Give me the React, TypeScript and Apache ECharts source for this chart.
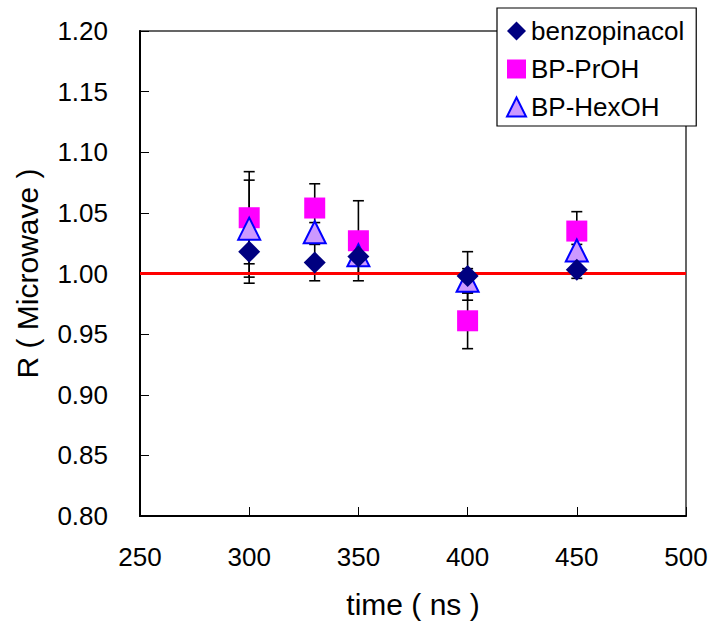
import React, { useEffect, useRef } from "react";
import * as echarts from "echarts";

const times = [300, 330, 350, 400, 450];
const benzo = [1.018, 1.009, 1.014, 0.998, 1.003];
const benzoErr = [0.026, 0.015, 0.014, 0.02, 0.007];
const prOH = [1.046, 1.054, 1.027, 0.961, 1.035];
const prOHErr = [0.038, 0.02, 0.033, 0.023, 0.016];
const hexOH = [1.037, 1.034, 1.015, 0.994, 1.019];
const hexOHErr = [0.04, 0.008, 0.006, 0.01, 0.005];
const seriesNames = ["benzopinacol", "BP-PrOH", "BP-HexOH"];
const refLine = [
  [250, 1.0],
  [500, 1.0],
];

const FONT = "'Liberation Sans', Arial, sans-serif";

function errSeries(name: string, ys: number[], errs: number[]) {
  return {
    type: "custom",
    name,
    z: 1,
    silent: true,
    data: times.map((t, i) => [t, ys[i], errs[i]]),
    renderItem: (_params: any, api: any) => {
      const x = api.value(0);
      const y = api.value(1);
      const e = api.value(2);
      const top = api.coord([x, y + e]);
      const bot = api.coord([x, y - e]);
      const hw = 5.5;
      const style = { stroke: "#000", lineWidth: 1.6 };
      return {
        type: "group",
        children: [
          { type: "line", shape: { x1: top[0], y1: top[1], x2: bot[0], y2: bot[1] }, style },
          { type: "line", shape: { x1: top[0] - hw, y1: top[1], x2: top[0] + hw, y2: top[1] }, style },
          { type: "line", shape: { x1: bot[0] - hw, y1: bot[1], x2: bot[0] + hw, y2: bot[1] }, style },
        ],
      };
    },
  };
}

export default function App() {
  const ref = useRef<HTMLDivElement>(null);
  useEffect(() => {
    const chart = echarts.init(ref.current!, null, { renderer: "svg" });
    chart.setOption({
      animation: false,
      backgroundColor: "#fff",
      textStyle: { fontFamily: FONT },
      grid: {
        left: 140,
        top: 31,
        right: 30,
        bottom: 107,
        show: true,
        borderColor: "#333",
        borderWidth: 1.5,
        backgroundColor: "transparent",
      },
      legend: {
        data: seriesNames,
        orient: "vertical",
        left: 497,
        top: 8,
        padding: [10, 12, 6, 9],
        itemGap: 12,
        itemWidth: 19,
        itemHeight: 19,
        backgroundColor: "#fff",
        borderColor: "#000",
        borderWidth: 1.2,
        borderRadius: 0,
        z: 10,
        textStyle: { fontSize: 26, color: "#000", fontFamily: FONT },
      },
      xAxis: {
        type: "value",
        min: 250,
        max: 500,
        interval: 50,
        name: "time ( ns )",
        nameLocation: "middle",
        nameGap: 73,
        nameTextStyle: { fontSize: 30, color: "#000", fontFamily: FONT },
        axisLine: { show: true, lineStyle: { color: "#000", width: 2 } },
        axisTick: { show: true, inside: true, length: 9, lineStyle: { color: "#000", width: 1 } },
        axisLabel: { fontSize: 26, color: "#000", margin: 28, fontFamily: FONT },
        splitLine: { show: false },
      },
      yAxis: {
        type: "value",
        min: 0.8,
        max: 1.2,
        interval: 0.05,
        name: "R ( Microwave )",
        nameLocation: "middle",
        nameRotate: 90,
        nameGap: 98,
        nameMoveOverlap: false,
        nameTextStyle: { fontSize: 30, color: "#000", fontFamily: FONT },
        axisLine: { show: true, lineStyle: { color: "#000", width: 2 } },
        axisTick: { show: true, inside: true, length: 9, lineStyle: { color: "#000", width: 1 } },
        axisLabel: {
          fontSize: 26,
          color: "#000",
          margin: 32,
          fontFamily: FONT,
          formatter: (v: number) => v.toFixed(2),
        },
        splitLine: { show: false },
      },
      series: [
        errSeries("err-benzo", benzo, benzoErr),
        errSeries("err-proh", prOH, prOHErr),
        errSeries("err-hexoh", hexOH, hexOHErr),
        {
          type: "line",
          name: "ref",
          data: refLine,
          symbol: "none",
          silent: true,
          z: 2,
          lineStyle: { color: "#ff0000", width: 3 },
        },
        {
          type: "scatter",
          name: seriesNames[1],
          data: times.map((t, i) => [t, prOH[i]]),
          symbol: "rect",
          symbolSize: 21,
          z: 3,
          itemStyle: { color: "#ff00ff", opacity: 1 },
        },
        {
          type: "scatter",
          name: seriesNames[2],
          data: times.map((t, i) => [t, hexOH[i]]),
          symbol: "triangle",
          symbolSize: 22,
          z: 4,
          itemStyle: { color: "#cc99ff", borderColor: "#0000ff", borderWidth: 2, opacity: 1 },
        },
        {
          type: "scatter",
          name: seriesNames[0],
          data: times.map((t, i) => [t, benzo[i]]),
          symbol: "diamond",
          symbolSize: 22,
          z: 5,
          itemStyle: { color: "#000080", opacity: 1 },
        },
      ],
    });
    return () => chart.dispose();
  }, []);
  return (
    <div
      ref={ref}
      style={{ position: "absolute", left: 0, top: 0, width: 716, height: 624 }}
    />
  );
}
